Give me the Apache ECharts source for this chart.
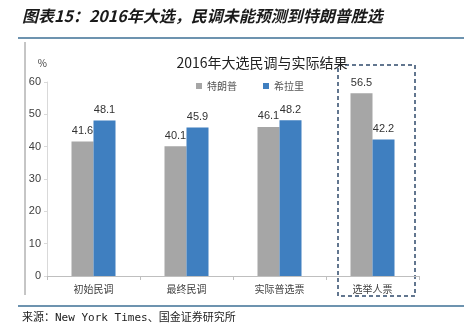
<!DOCTYPE html>
<html><head><meta charset="utf-8">
<script src="https://cdn.jsdelivr.net/npm/echarts@6/dist/echarts.min.js"></script>
<style>html,body{margin:0;padding:0;background:#fff}#c{width:464px;height:330px}</style>
</head><body><div id="c"></div>
<script>
var categories = ['初始民调', '最终民调', '实际普选票', '选举人票'];
var trumpValues = [41.6, 40.1, 46.1, 56.5];
var clintonValues = [48.1, 45.9, 48.2, 42.2];
var seriesNames = ['特朗普', '希拉里'];
var yTicks = [0, 10, 20, 30, 40, 50, 60];

var chart = echarts.init(document.getElementById('c'), null, {renderer: 'canvas'});
var font = '"Noto Sans CJK SC", "Liberation Sans", sans-serif';
var option = {
  animation: false,
  textStyle: {fontFamily: font},
  grid: {left: 47, right: 45, top: 82, bottom: 54},
  title: {
    text: '2016年大选民调与实际结果', left: 257, top: 51, textAlign: 'center',
    textStyle: {fontSize: 14, fontWeight: 'normal', color: '#222', fontFamily: font}
  },
  legend: {
    data: seriesNames, top: 76, left: 191, itemWidth: 6, itemHeight: 6, itemGap: 26,
    textStyle: {fontSize: 10, color: '#555'}, icon: 'rect'
  },
  xAxis: {
    type: 'category', data: categories,
    axisLine: {lineStyle: {color: '#bfbfbf'}},
    axisTick: {show: true, length: 4, lineStyle: {color: '#bfbfbf'}},
    axisLabel: {fontSize: 10, color: '#404040', margin: 8}
  },
  yAxis: {
    type: 'value', min: yTicks[0], max: yTicks[yTicks.length - 1], interval: 10,
    name: '%', nameLocation: 'end', nameGap: 14, nameTextStyle: {fontSize: 10, color: '#404040', align: 'right'},
    axisLine: {show: true, lineStyle: {color: '#d9d9d9'}},
    axisTick: {show: true, length: 3, lineStyle: {color: '#d9d9d9'}},
    splitLine: {show: false},
    axisLabel: {fontSize: 11, color: '#404040', margin: 6, fontFamily: '"Liberation Sans", Arial, sans-serif'}
  },
  series: [
    {name: seriesNames[0], type: 'bar', data: trumpValues, barWidth: 22, barGap: '0%',
     itemStyle: {color: '#a6a6a6'},
     label: {show: true, position: 'top', fontSize: 11, color: '#333', distance: 5, fontFamily: '"Liberation Sans", Arial, sans-serif'}},
    {name: seriesNames[1], type: 'bar', data: clintonValues, barWidth: 22,
     itemStyle: {color: '#3f7fc0'},
     label: {show: true, position: 'top', fontSize: 11, color: '#333', distance: 5, fontFamily: '"Liberation Sans", Arial, sans-serif'}}
  ]
};
chart.setOption(option);

var cx = chart.convertToPixel({xAxisIndex: 0}, categories[3]);
var headerGraphics = [
  {type: 'text', left: 22, top: 8, style: {text: '图表15：2016年大选，民调未能预测到特朗普胜选', fontSize: 16, fontStyle: 'italic', fontWeight: 'bold', fill: '#1a1a1a', fontFamily: font}},
  {type: 'line', shape: {x1: 18, y1: 38, x2: 464, y2: 38}, style: {stroke: '#3d6f95', lineWidth: 1.5}},
  {type: 'line', shape: {x1: 25, y1: 42, x2: 25, y2: 295}, style: {stroke: '#8c8c8c', lineWidth: 1}},
  {type: 'rect', shape: {x: cx - 34.5, y: 65, width: 77, height: 231}, style: {fill: 'none', stroke: '#2f4a6b', lineWidth: 1.5, lineDash: [4, 3]}},
  {type: 'line', shape: {x1: 18, y1: 306, x2: 464, y2: 306}, style: {stroke: '#3d6f95', lineWidth: 1.5}},
  {type: 'text', left: 22, top: 313, style: {text: '来源：New York Times、国金证券研究所', fontSize: 11, fill: '#222', fontFamily: '"DejaVu Sans Mono", "Noto Sans CJK SC", monospace'}}
];
chart.setOption({graphic: headerGraphics});
</script></body></html>
